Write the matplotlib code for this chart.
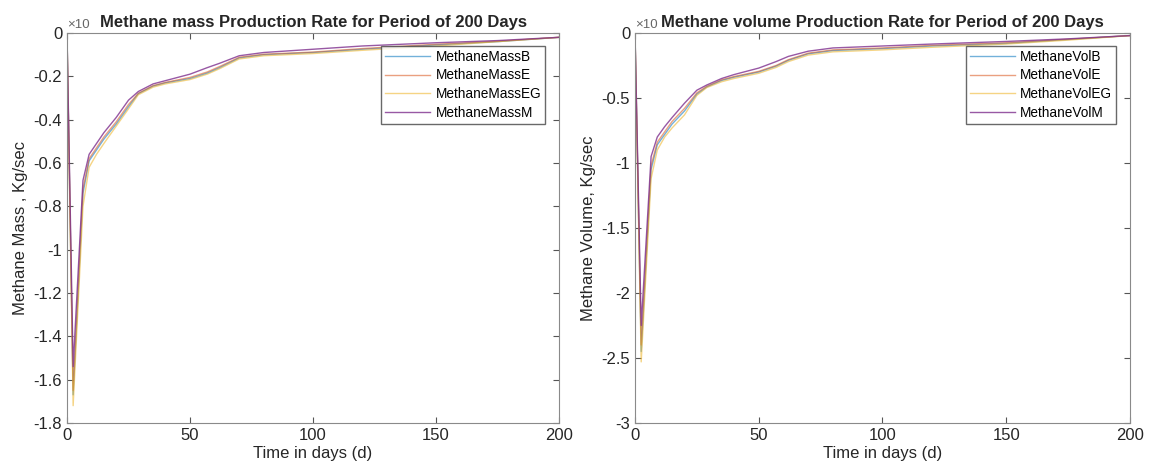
import matplotlib
matplotlib.use("Agg")
import matplotlib.pyplot as plt

plt.rcParams["font.family"] = ["Liberation Sans", "DejaVu Sans"]

# days sampled along the curves
days = [0, 2.5, 6.5, 9, 12, 15, 20, 25, 29, 35, 40, 50, 57, 62, 70, 80, 100, 120, 150, 175, 200]

# methane mass production rate
mass_b = [0, -1.67, -0.74, -0.59, -0.54, -0.49, -0.42, -0.34, -0.28, -0.245, -0.23, -0.21, -0.185, -0.16, -0.115, -0.10, -0.09, -0.075, -0.055, -0.04, -0.02]
mass_e = [0, -1.65, -0.72, -0.58, -0.53, -0.48, -0.41, -0.33, -0.278, -0.243, -0.228, -0.205, -0.18, -0.155, -0.112, -0.098, -0.088, -0.072, -0.052, -0.038, -0.02]
mass_eg = [0, -1.72, -0.80, -0.62, -0.56, -0.51, -0.43, -0.35, -0.285, -0.25, -0.235, -0.215, -0.19, -0.165, -0.12, -0.105, -0.095, -0.08, -0.06, -0.04, -0.02]
mass_m = [0, -1.54, -0.68, -0.56, -0.51, -0.46, -0.39, -0.31, -0.27, -0.235, -0.22, -0.19, -0.16, -0.14, -0.105, -0.09, -0.075, -0.06, -0.045, -0.035, -0.02]

# methane volume production rate
vol_b = [0, -2.45, -1.05, -0.86, -0.78, -0.70, -0.60, -0.47, -0.415, -0.365, -0.34, -0.30, -0.255, -0.21, -0.16, -0.135, -0.12, -0.10, -0.08, -0.05, -0.02]
vol_e = [0, -2.40, -1.02, -0.84, -0.76, -0.68, -0.58, -0.46, -0.41, -0.36, -0.335, -0.295, -0.25, -0.205, -0.155, -0.13, -0.115, -0.095, -0.075, -0.048, -0.02]
vol_eg = [0, -2.53, -1.12, -0.90, -0.80, -0.73, -0.63, -0.48, -0.42, -0.375, -0.35, -0.31, -0.265, -0.22, -0.17, -0.145, -0.13, -0.11, -0.085, -0.055, -0.02]
vol_m = [0, -2.25, -0.95, -0.80, -0.72, -0.65, -0.54, -0.44, -0.40, -0.35, -0.32, -0.27, -0.22, -0.18, -0.14, -0.115, -0.10, -0.085, -0.065, -0.045, -0.02]

colors = ["#0072BD", "#D95319", "#EDB120", "#7E2F8E"]
txt = "#262626"

fig = plt.figure(figsize=(11.51, 4.74), dpi=100)
ax1 = fig.add_axes([0.0582, 0.1076, 0.4275, 0.8228])
ax2 = fig.add_axes([0.5517, 0.1076, 0.4300, 0.8228])

panels = [
    (ax1, [mass_b, mass_e, mass_eg, mass_m],
     ["MethaneMassB", "MethaneMassE", "MethaneMassEG", "MethaneMassM"],
     "Methane mass Production Rate for Period of 200 Days",
     "Methane Mass , Kg/sec", (-1.8, 0), [-1.8, -1.6, -1.4, -1.2, -1, -0.8, -0.6, -0.4, -0.2, 0]),
    (ax2, [vol_b, vol_e, vol_eg, vol_m],
     ["MethaneVolB", "MethaneVolE", "MethaneVolEG", "MethaneVolM"],
     "Methane volume Production Rate for Period of 200 Days",
     "Methane Volume, Kg/sec", (-3, 0), [-3, -2.5, -2, -1.5, -1, -0.5, 0]),
]

for ax, series, names, title, ylabel, ylim, yticks in panels:
    for s, name, c in zip(series, names, colors):
        ax.plot(days, s, color=c, lw=1.0, alpha=0.55 if c != colors[3] else 0.8, label=name)
    ax.set_xlim(0, 200)
    ax.set_ylim(*ylim)
    ax.set_xticks([0, 50, 100, 150, 200])
    ax.set_yticks(yticks)
    ax.set_yticklabels(["0" if v == 0 else ("%g" % v) for v in yticks])
    ax.tick_params(direction="in", top=True, right=True, labelsize=12, colors="#555555",
                   labelcolor=txt, length=4)
    for sp in ax.spines.values():
        sp.set_color("#8a8a8a")
    ax.set_xlabel("Time in days (d)", fontsize=12, color=txt, labelpad=2)
    ax.set_ylabel(ylabel, fontsize=12, color=txt, labelpad=4)
    ax.text(0.0, 1.006, "\u00d710", transform=ax.transAxes, fontsize=9.5,
            color="#666666", va="bottom", ha="left")
    ax.set_title(title, fontsize=12, fontweight="bold", color=txt, pad=4)
    ax.legend(loc="upper right", fontsize=9.8, frameon=True, fancybox=False,
              edgecolor="#444444", handlelength=3.3, borderpad=0.3,
              labelspacing=0.35, handletextpad=0.4, bbox_to_anchor=(0.986, 0.985))

fig.savefig("out.png", dpi=100)
